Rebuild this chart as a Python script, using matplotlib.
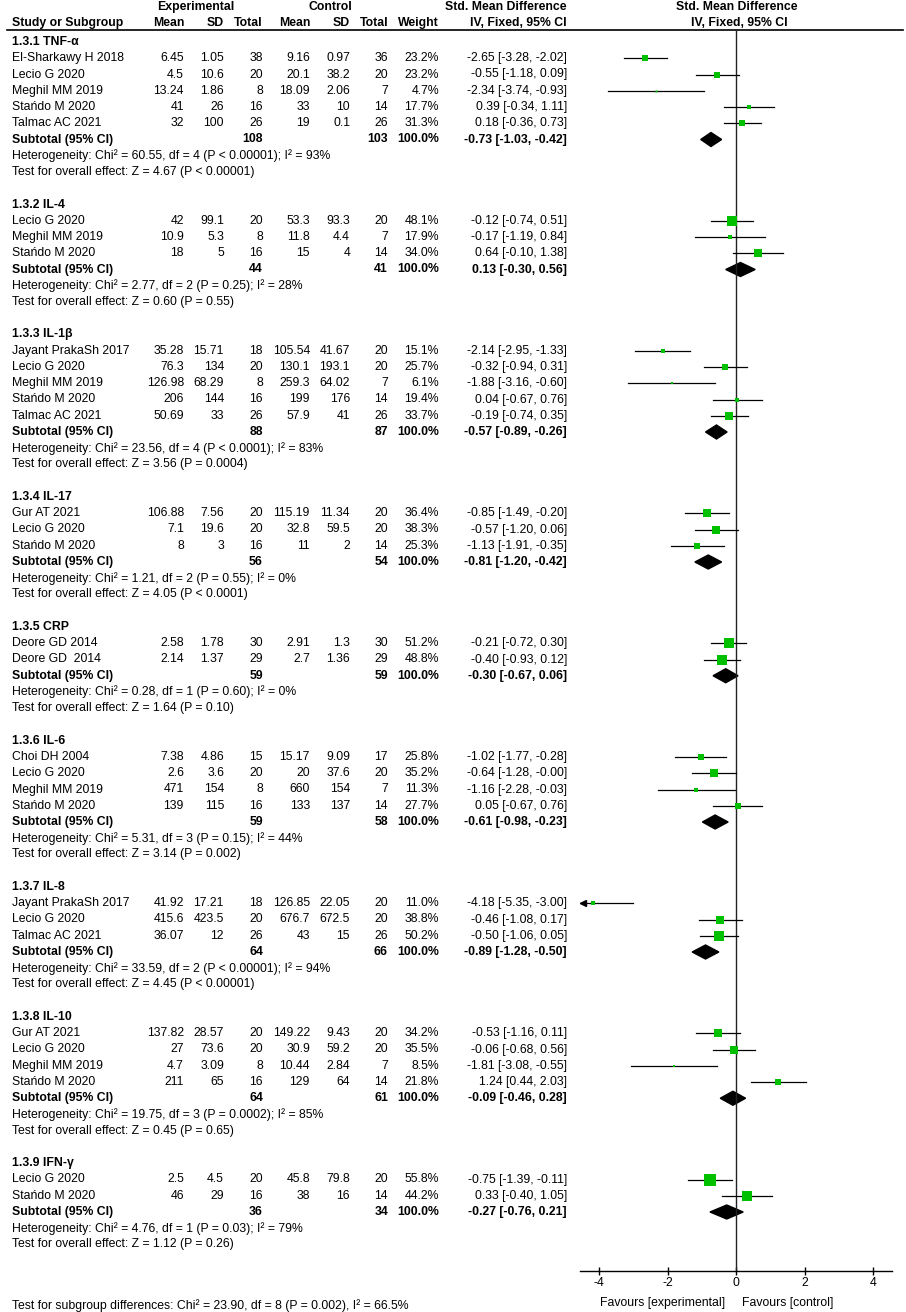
import matplotlib.pyplot as plt
from matplotlib.patches import Polygon

plt.rcParams['font.family'] = ['Liberation Sans', 'DejaVu Sans']
plt.rcParams['axes.unicode_minus'] = False
FS = 8.8
GREEN = '#00c000'

# subgroups
group_names = ['1.3.1 TNF-α', '1.3.2 IL-4', '1.3.3 IL-1β', '1.3.4 IL-17', '1.3.5 CRP',
               '1.3.6 IL-6', '1.3.7 IL-8', '1.3.8 IL-10', '1.3.9 IFN-γ']
sub_exp_n = [108, 44, 88, 56, 59, 59, 64, 64, 36]
sub_ctl_n = [103, 41, 87, 54, 59, 58, 66, 61, 34]
sub_smd = [-0.73, 0.13, -0.57, -0.81, -0.30, -0.61, -0.89, -0.09, -0.27]
sub_lo = [-1.03, -0.30, -0.89, -1.20, -0.67, -0.98, -1.28, -0.46, -0.76]
sub_hi = [-0.42, 0.56, -0.26, -0.42, 0.06, -0.23, -0.50, 0.28, 0.21]
sub_het = [
    'Heterogeneity: Chi² = 60.55, df = 4 (P < 0.00001); I² = 93%',
    'Heterogeneity: Chi² = 2.77, df = 2 (P = 0.25); I² = 28%',
    'Heterogeneity: Chi² = 23.56, df = 4 (P < 0.0001); I² = 83%',
    'Heterogeneity: Chi² = 1.21, df = 2 (P = 0.55); I² = 0%',
    'Heterogeneity: Chi² = 0.28, df = 1 (P = 0.60); I² = 0%',
    'Heterogeneity: Chi² = 5.31, df = 3 (P = 0.15); I² = 44%',
    'Heterogeneity: Chi² = 33.59, df = 2 (P < 0.00001); I² = 94%',
    'Heterogeneity: Chi² = 19.75, df = 3 (P = 0.0002); I² = 85%',
    'Heterogeneity: Chi² = 4.76, df = 1 (P = 0.03); I² = 79%',
]
sub_z = [
    'Test for overall effect: Z = 4.67 (P < 0.00001)',
    'Test for overall effect: Z = 0.60 (P = 0.55)',
    'Test for overall effect: Z = 3.56 (P = 0.0004)',
    'Test for overall effect: Z = 4.05 (P < 0.0001)',
    'Test for overall effect: Z = 1.64 (P = 0.10)',
    'Test for overall effect: Z = 3.14 (P = 0.002)',
    'Test for overall effect: Z = 4.45 (P < 0.00001)',
    'Test for overall effect: Z = 0.45 (P = 0.65)',
    'Test for overall effect: Z = 1.12 (P = 0.26)',
]

# studies
study_group = [0, 0, 0, 0, 0, 1, 1, 1, 2, 2, 2, 2, 2, 3, 3, 3, 4, 4,
               5, 5, 5, 5, 6, 6, 6, 7, 7, 7, 7, 8, 8]
study_names = [
    'El-Sharkawy H 2018', 'Lecio G 2020', 'Meghil MM 2019', 'Stańdo M 2020', 'Talmac AC 2021',
    'Lecio G 2020', 'Meghil MM 2019', 'Stańdo M 2020',
    'Jayant PrakaSh 2017', 'Lecio G 2020', 'Meghil MM 2019', 'Stańdo M 2020', 'Talmac AC 2021',
    'Gur AT 2021', 'Lecio G 2020', 'Stańdo M 2020',
    'Deore GD 2014', 'Deore GD  2014',
    'Choi DH 2004', 'Lecio G 2020', 'Meghil MM 2019', 'Stańdo M 2020',
    'Jayant PrakaSh 2017', 'Lecio G 2020', 'Talmac AC 2021',
    'Gur AT 2021', 'Lecio G 2020', 'Meghil MM 2019', 'Stańdo M 2020',
    'Lecio G 2020', 'Stańdo M 2020',
]
exp_mean = [6.45, 4.5, 13.24, 41, 32, 42, 10.9, 18, 35.28, 76.3, 126.98, 206, 50.69,
            106.88, 7.1, 8, 2.58, 2.14, 7.38, 2.6, 471, 139, 41.92, 415.6, 36.07,
            137.82, 27, 4.7, 211, 2.5, 46]
exp_sd = [1.05, 10.6, 1.86, 26, 100, 99.1, 5.3, 5, 15.71, 134, 68.29, 144, 33,
          7.56, 19.6, 3, 1.78, 1.37, 4.86, 3.6, 154, 115, 17.21, 423.5, 12,
          28.57, 73.6, 3.09, 65, 4.5, 29]
exp_n = [38, 20, 8, 16, 26, 20, 8, 16, 18, 20, 8, 16, 26, 20, 20, 16, 30, 29,
         15, 20, 8, 16, 18, 20, 26, 20, 20, 8, 16, 20, 16]
ctl_mean = [9.16, 20.1, 18.09, 33, 19, 53.3, 11.8, 15, 105.54, 130.1, 259.3, 199, 57.9,
            115.19, 32.8, 11, 2.91, 2.7, 15.17, 20, 660, 133, 126.85, 676.7, 43,
            149.22, 30.9, 10.44, 129, 45.8, 38]
ctl_sd = [0.97, 38.2, 2.06, 10, 0.1, 93.3, 4.4, 4, 41.67, 193.1, 64.02, 176, 41,
          11.34, 59.5, 2, 1.3, 1.36, 9.09, 37.6, 154, 137, 22.05, 672.5, 15,
          9.43, 59.2, 2.84, 64, 79.8, 16]
ctl_n = [36, 20, 7, 14, 26, 20, 7, 14, 20, 20, 7, 14, 26, 20, 20, 14, 30, 29,
         17, 20, 7, 14, 20, 20, 26, 20, 20, 7, 14, 20, 14]
weight = [23.2, 23.2, 4.7, 17.7, 31.3, 48.1, 17.9, 34.0, 15.1, 25.7, 6.1, 19.4, 33.7,
          36.4, 38.3, 25.3, 51.2, 48.8, 25.8, 35.2, 11.3, 27.7, 11.0, 38.8, 50.2,
          34.2, 35.5, 8.5, 21.8, 55.8, 44.2]
smd = [-2.65, -0.55, -2.34, 0.39, 0.18, -0.12, -0.17, 0.64, -2.14, -0.32, -1.88, 0.04, -0.19,
       -0.85, -0.57, -1.13, -0.21, -0.40, -1.02, -0.64, -1.16, 0.05, -4.18, -0.46, -0.50,
       -0.53, -0.06, -1.81, 1.24, -0.75, 0.33]
ci_lo = [-3.28, -1.18, -3.74, -0.34, -0.36, -0.74, -1.19, -0.10, -2.95, -0.94, -3.16, -0.67, -0.74,
         -1.49, -1.20, -1.91, -0.72, -0.93, -1.77, -1.28, -2.28, -0.67, -5.35, -1.08, -1.06,
         -1.16, -0.68, -3.08, 0.44, -1.39, -0.40]
ci_hi = [-2.02, 0.09, -0.93, 1.11, 0.73, 0.51, 0.84, 1.38, -1.33, 0.31, -0.60, 0.76, 0.35,
         -0.20, 0.06, -0.35, 0.30, 0.12, -0.28, -0.0, -0.03, 0.76, -3.00, 0.17, 0.05,
         0.11, 0.56, -0.55, 2.03, -0.11, 1.05]

W, H = 906, 1312
fig = plt.figure(figsize=(W / 100, H / 100), dpi=100)
ax = fig.add_axes([0, 0, 1, 1])
ax.set_xlim(0, W)
ax.set_ylim(H, 0)
ax.axis('off')

# forest panel
X0, UNIT = 736, 34.25
xlo, xhi = -4.55, 4.55
AX_TOP, AX_BOT = 29.5, 1270.5
fx = fig.add_axes([(X0 + xlo * UNIT) / W, (H - AX_BOT) / H,
                   (xhi - xlo) * UNIT / W, (AX_BOT - AX_TOP) / H])
fx.set_xlim(xlo, xhi)
fx.set_ylim(AX_BOT, AX_TOP)
fx.patch.set_visible(False)
for s in ['top', 'left', 'right']:
    fx.spines[s].set_visible(False)
fx.spines['bottom'].set_linewidth(1)
fx.set_yticks([])
fx.set_xticks([-4, -2, 0, 2, 4])
fx.tick_params(axis='x', direction='inout', length=6, width=1, labelsize=FS, pad=1.5)
fx.axvline(0, color='#222222', lw=1)

LEFT = 12
col_right = [184, 224, 263, 310, 350, 388, 439, 567]
ROW0, ROWH = 42, 16.25


def txt(x, y, s, ha='left', bold=False):
    ax.text(x, y, s, ha=ha, va='center', fontsize=FS,
            fontweight='bold' if bold else 'normal')


def ci_text(m, lo, hi):
    return f'{m:.2f} [{lo:.2f}, {hi:.2f}]'


# header
hy1, hy2 = 7, 23
txt(196, hy1, 'Experimental', ha='center', bold=True)
txt(330, hy1, 'Control', ha='center', bold=True)
txt(506, hy1, 'Std. Mean Difference', ha='center', bold=True)
txt(737, hy1, 'Std. Mean Difference', ha='center', bold=True)
txt(LEFT, hy2, 'Study or Subgroup', bold=True)
for xr, s in zip(col_right, ['Mean', 'SD', 'Total', 'Mean', 'SD', 'Total', 'Weight',
                             'IV, Fixed, 95% CI']):
    txt(xr, hy2, s, ha='right', bold=True)
txt(739, hy2, 'IV, Fixed, 95% CI', ha='center', bold=True)
ax.plot([7, 903], [AX_TOP, AX_TOP], color='black', lw=1.2)

r = 0
for g, gname in enumerate(group_names):
    txt(LEFT, ROW0 + ROWH * r, gname, bold=True)
    r += 1
    for i in range(len(study_names)):
        if study_group[i] != g:
            continue
        y = ROW0 + ROWH * r
        txt(LEFT, y, study_names[i])
        vals = [exp_mean[i], exp_sd[i], exp_n[i], ctl_mean[i], ctl_sd[i], ctl_n[i]]
        for xr, v in zip(col_right[:6], vals):
            txt(xr, y, f'{v:g}', ha='right')
        txt(col_right[6], y, f'{weight[i]:.1f}%', ha='right')
        txt(col_right[7], y, ci_text(smd[i], ci_lo[i], ci_hi[i]), ha='right')
        lo = max(ci_lo[i], xlo)
        fx.plot([lo, min(ci_hi[i], xhi)], [y, y], color='black', lw=0.9)
        if ci_lo[i] < xlo:
            fx.plot(xlo + 0.07, y, marker='<', ms=4.5, color='black', clip_on=False)
        side = 0.19 * weight[i] + 1.0
        fx.plot(smd[i], y, 's', ms=side * 0.72, color=GREEN, mew=0)
        r += 1
    y = ROW0 + ROWH * r
    txt(LEFT, y, 'Subtotal (95% CI)', bold=True)
    txt(col_right[2], y, str(sub_exp_n[g]), ha='right', bold=True)
    txt(col_right[5], y, str(sub_ctl_n[g]), ha='right', bold=True)
    txt(col_right[6], y, '100.0%', ha='right', bold=True)
    txt(col_right[7], y, ci_text(sub_smd[g], sub_lo[g], sub_hi[g]), ha='right', bold=True)
    fx.add_patch(Polygon([(sub_lo[g], y), (sub_smd[g], y - 7), (sub_hi[g], y),
                          (sub_smd[g], y + 7)], closed=True, color='black'))
    r += 1
    txt(LEFT, ROW0 + ROWH * r, sub_het[g])
    r += 1
    txt(LEFT, ROW0 + ROWH * r, sub_z[g])
    r += 2

txt(725, 1303, 'Favours [experimental]', ha='right')
txt(742, 1303, 'Favours [control]')
txt(LEFT, 1306, 'Test for subgroup differences: Chi² = 23.90, df = 8 (P = 0.002), I² = 66.5%')

fig.savefig('out.png', dpi=100)
